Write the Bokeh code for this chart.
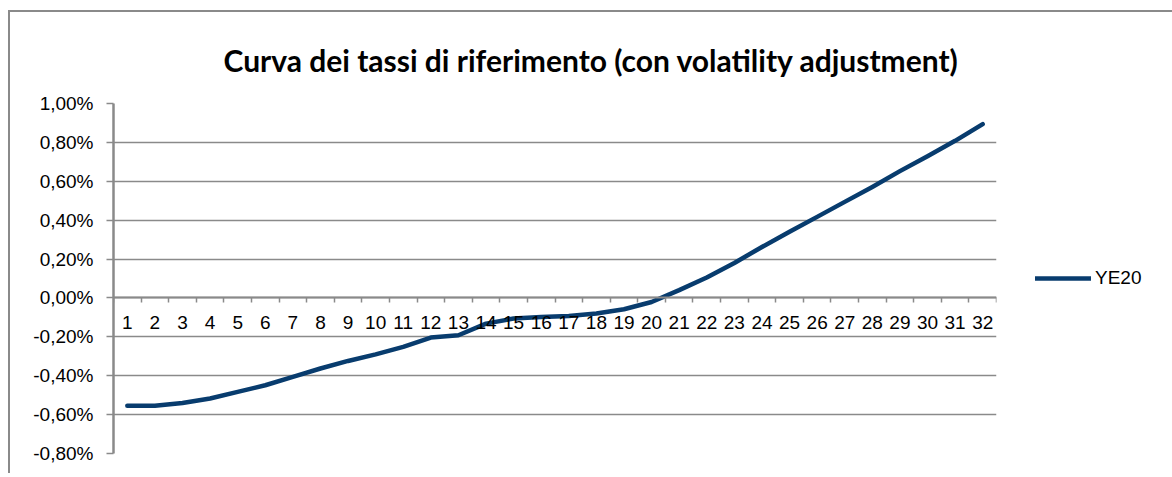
from bokeh.plotting import figure
from bokeh.models import (Range1d, FixedTicker, LinearAxis, Legend, LegendItem,
                          ColumnDataSource, Title, Grid)
from bokeh.embed import file_html
from bokeh.resources import INLINE

# ---- data ----
categories = [str(i) for i in range(1, 33)]
x_pos = list(range(1, 33))
ye20 = [-0.555, -0.555, -0.540, -0.517, -0.483, -0.449, -0.406, -0.363,
        -0.324, -0.290, -0.252, -0.204, -0.192, -0.132, -0.106, -0.098,
        -0.093, -0.080, -0.058, -0.021, 0.040, 0.105, 0.180, 0.262,
        0.340, 0.417, 0.494, 0.571, 0.652, 0.729, 0.808, 0.894]
y_ticks = [-0.8, -0.6, -0.4, -0.2, 0.0, 0.2, 0.4, 0.6, 0.8, 1.0]
y_tick_labels = ["-0,80%", "-0,60%", "-0,40%", "-0,20%", "0,00%",
                 "0,20%", "0,40%", "0,60%", "0,80%", "1,00%"]
series_name = "YE20"
title_text = "Curva dei tassi di riferimento (con volatility adjustment)"

GRID = "#8a8a8a"
LINE = "#083c6e"
FONT = "Liberation Sans"

p = figure(frame_width=883, frame_height=350, output_backend="svg",
           toolbar_location=None,
           x_range=Range1d(0.5, 32.5), y_range=Range1d(-0.8, 1.0),
           min_border_left=103, min_border_right=174, min_border_top=91,
           min_border_bottom=20, x_axis_type=None, y_axis_type=None)
p.margin = (10, 0, 0, 8)
p.styles = {"border-left": "2px solid #8a8a8a", "border-top": "2px solid #8a8a8a"}
p.outline_line_color = None
p.background_fill_color = "white"
p.border_fill_color = "white"

p.title = Title(text=title_text, align="left", offset=110,
                text_font="Lato", text_font_size="30px", text_font_style="bold",
                text_color="black", standoff=51)

# y axis
yax = LinearAxis(ticker=FixedTicker(ticks=y_ticks))
yax.major_label_overrides = dict(zip(y_ticks, y_tick_labels))
yax.axis_line_color = GRID
yax.axis_line_width = 2.5
yax.major_tick_line_color = GRID
yax.major_tick_line_width = 1.5
yax.major_tick_out = 7
yax.major_tick_in = 0
yax.minor_tick_line_color = None
yax.major_label_text_font = FONT
yax.major_label_text_font_size = "19px"
yax.major_label_text_color = "black"
yax.major_label_standoff = 13
p.add_layout(yax, "left")

p.add_layout(Grid(dimension=1, ticker=FixedTicker(ticks=y_ticks),
                  grid_line_color=GRID, grid_line_width=1.5))

# x axis at zero: tick marks between categories
boundaries = [i + 0.5 for i in range(0, 33)]
xticks_ax = LinearAxis(ticker=FixedTicker(ticks=boundaries), fixed_location=0)
xticks_ax.axis_line_color = GRID
xticks_ax.axis_line_width = 2
xticks_ax.major_tick_line_color = GRID
xticks_ax.major_tick_line_width = 1.5
xticks_ax.major_tick_out = 5
xticks_ax.major_tick_in = 0
xticks_ax.minor_tick_line_color = None
xticks_ax.major_label_text_color = None
p.add_layout(xticks_ax, "below")

# x labels at category centres
xlab_ax = LinearAxis(ticker=FixedTicker(ticks=x_pos), fixed_location=0)
xlab_ax.major_label_overrides = dict(zip(x_pos, categories))
xlab_ax.axis_line_color = None
xlab_ax.major_tick_line_color = None
xlab_ax.minor_tick_line_color = None
xlab_ax.major_label_text_font = FONT
xlab_ax.major_label_text_font_size = "19px"
xlab_ax.major_label_text_color = "black"
xlab_ax.major_label_standoff = 12
p.add_layout(xlab_ax, "below")

src = ColumnDataSource(dict(x=x_pos, y=ye20))
r = p.line("x", "y", source=src, line_color=LINE, line_width=4.5,
           line_join="round", line_cap="round")

legend = Legend(items=[LegendItem(label=series_name, renderers=[r])],
                location="center_left", border_line_color=None,
                background_fill_alpha=0, glyph_width=56, glyph_height=20,
                label_standoff=4, label_text_font=FONT,
                label_text_font_size="19px", label_text_color="black",
                padding=0, margin=39, spacing=0)
p.add_layout(legend, "right")

open("out.html", "w").write(file_html(p, INLINE))
